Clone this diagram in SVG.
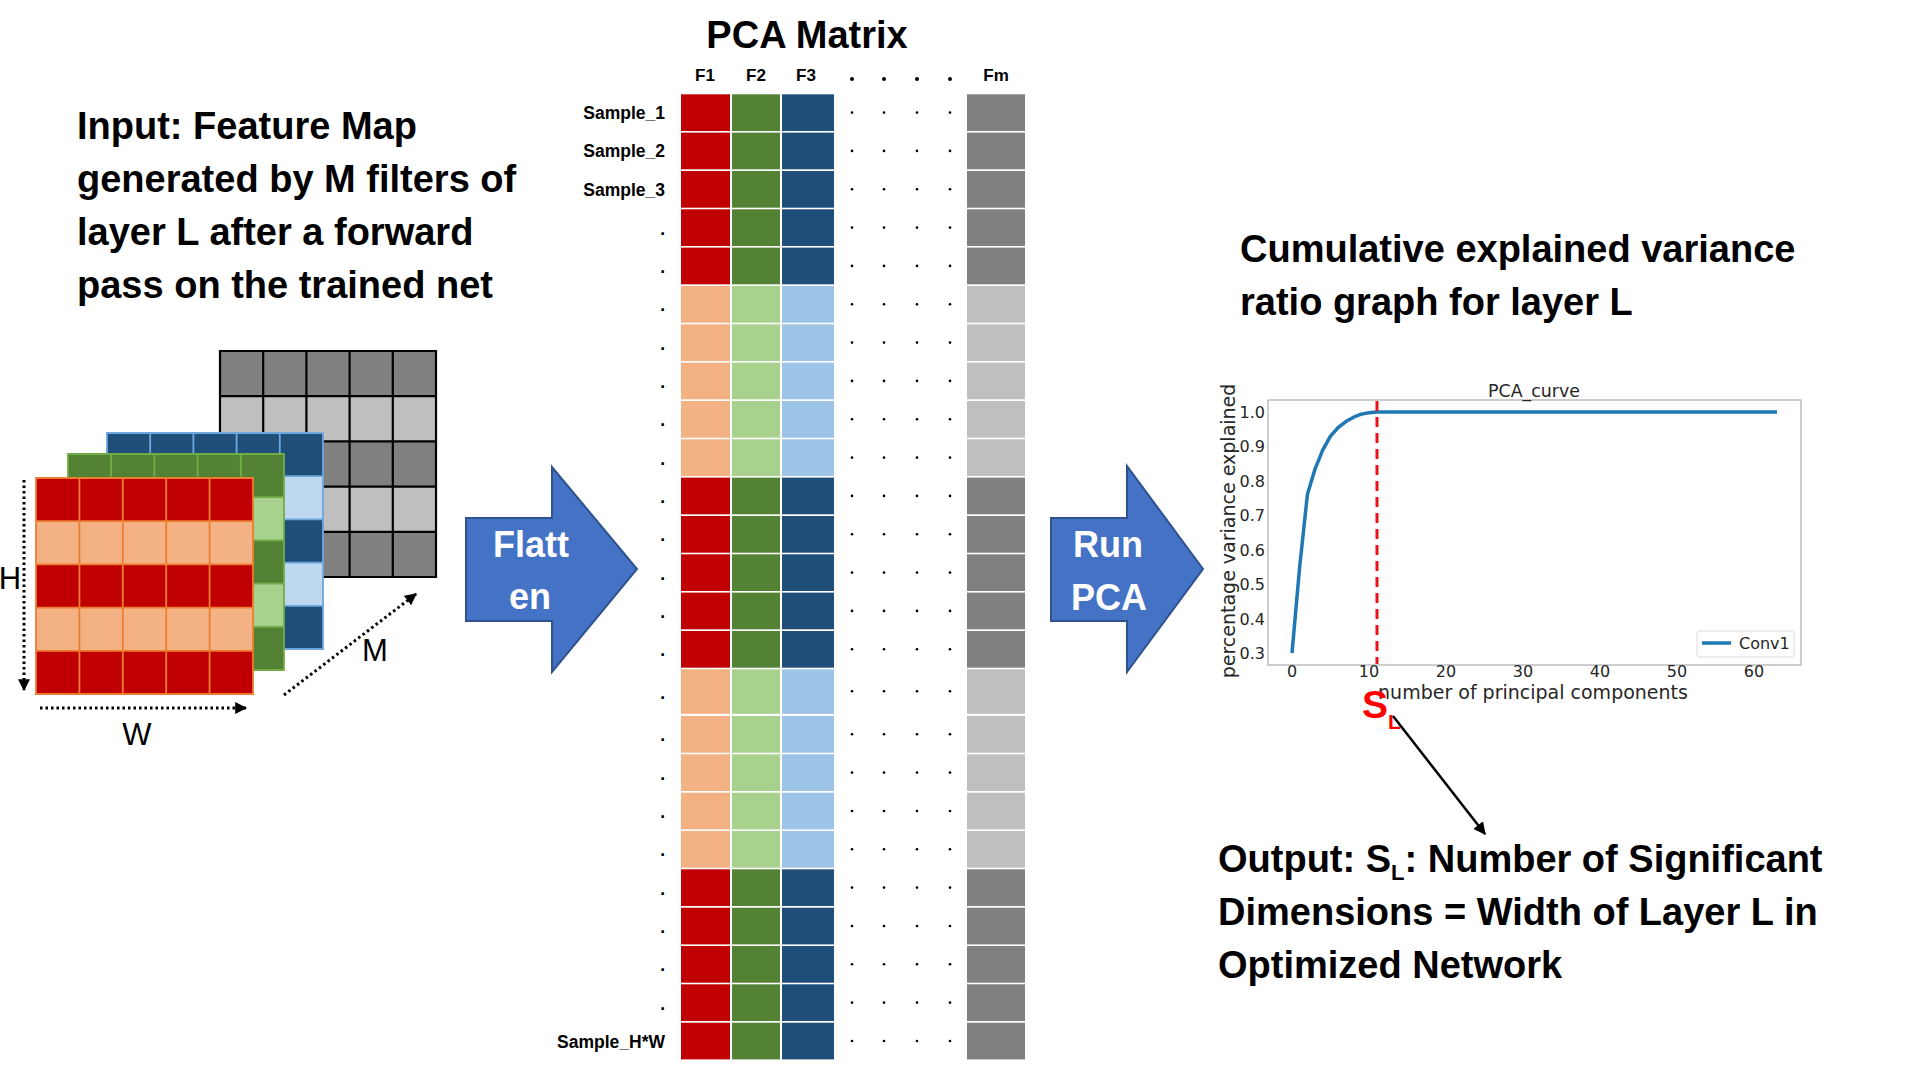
<svg xmlns="http://www.w3.org/2000/svg" width="1920" height="1080" viewBox="0 0 1920 1080">
<style>
.b{font-family:"Liberation Sans",Arial,sans-serif;font-weight:bold;fill:#000}
.r{font-family:"Liberation Sans",Arial,sans-serif;fill:#000}
.big{font-size:38px}
.wt{fill:#fff;font-size:36px;text-anchor:middle}
.hd{font-size:17px;text-anchor:middle}
.lb{font-size:17.5px;text-anchor:end}
.dj{font-family:"DejaVu Sans",sans-serif;fill:#262626}
.tk{font-size:16px}
.dot{stroke:#000;stroke-width:3;stroke-dasharray:2.5 3;fill:none}
.blk{fill:#4472C4;stroke:#2F528F;stroke-width:2}
</style>
<defs>
<marker id="ah" viewBox="0 0 10 10" refX="9" refY="5" markerWidth="4" markerHeight="4" orient="auto" markerUnits="strokeWidth">
<path d="M0,0 L10,5 L0,10 Z" fill="#000"/>
</marker>
<marker id="ah2" viewBox="0 0 10 10" refX="9" refY="5" markerWidth="5" markerHeight="5" orient="auto" markerUnits="strokeWidth">
<path d="M0,0 L10,5 L0,10 Z" fill="#000"/>
</marker>
<g id="rd">
<rect x="681" y="0" width="49" height="36.7" fill="#C00000"/>
<rect x="732" y="0" width="48" height="36.7" fill="#548235"/>
<rect x="782" y="0" width="52" height="36.7" fill="#1F4E79"/>
<rect x="967" y="0" width="58" height="36.7" fill="#808080"/>
<circle cx="852" cy="18.3" r="1.3"/><circle cx="884" cy="18.3" r="1.3"/><circle cx="917" cy="18.3" r="1.3"/><circle cx="950" cy="18.3" r="1.3"/>
</g>
<g id="rl">
<rect x="681" y="0" width="49" height="36.7" fill="#F4B183"/>
<rect x="732" y="0" width="48" height="36.7" fill="#A9D18E"/>
<rect x="782" y="0" width="52" height="36.7" fill="#9DC3E6"/>
<rect x="967" y="0" width="58" height="36.7" fill="#BFBFBF"/>
<circle cx="852" cy="18.3" r="1.3"/><circle cx="884" cy="18.3" r="1.3"/><circle cx="917" cy="18.3" r="1.3"/><circle cx="950" cy="18.3" r="1.3"/>
</g>
<g id="rlt">
<rect x="681" y="0" width="49" height="44.5" fill="#F4B183"/>
<rect x="732" y="0" width="48" height="44.5" fill="#A9D18E"/>
<rect x="782" y="0" width="52" height="44.5" fill="#9DC3E6"/>
<rect x="967" y="0" width="58" height="44.5" fill="#BFBFBF"/>
<circle cx="852" cy="22" r="1.3"/><circle cx="884" cy="22" r="1.3"/><circle cx="917" cy="22" r="1.3"/><circle cx="950" cy="22" r="1.3"/>
</g>
</defs>
<rect width="1920" height="1080" fill="#fff"/>

<g id="input-text">
<text class="b big" x="77" y="139">Input: Feature Map</text>
<text class="b big" x="77" y="192">generated by M filters of</text>
<text class="b big" x="77" y="245">layer L after a forward</text>
<text class="b big" x="77" y="298">pass on the trained net</text>
</g>

<g id="feature-map">
<g id="fm-gray">
<rect x="220" y="351" width="216" height="45.2" fill="#808080"/>
<rect x="220" y="396.2" width="216" height="45.2" fill="#BFBFBF"/>
<rect x="220" y="441.4" width="216" height="45.2" fill="#808080"/>
<rect x="220" y="486.6" width="216" height="45.2" fill="#BFBFBF"/>
<rect x="220" y="531.8" width="216" height="45.2" fill="#808080"/>
<path d="M220,351H436V577H220Z M263.2,351V577 M306.4,351V577 M349.6,351V577 M392.8,351V577 M220,396.2H436 M220,441.4H436 M220,486.6H436 M220,531.8H436" fill="none" stroke="#000" stroke-width="2.2"/>
</g>
<g id="fm-blue">
<rect x="107" y="433" width="216" height="43.2" fill="#1F4E79"/>
<rect x="107" y="476.2" width="216" height="43.2" fill="#BDD7EE"/>
<rect x="107" y="519.4" width="216" height="43.2" fill="#1F4E79"/>
<rect x="107" y="562.6" width="216" height="43.2" fill="#BDD7EE"/>
<rect x="107" y="605.8" width="216" height="43.2" fill="#1F4E79"/>
<path d="M107,433H323V649H107Z M150.2,433V649 M193.4,433V649 M236.6,433V649 M279.8,433V649 M107,476.2H323 M107,519.4H323 M107,562.6H323 M107,605.8H323" fill="none" stroke="#6FA8DC" stroke-width="1.8"/>
</g>
<g id="fm-green">
<rect x="68" y="454" width="216" height="43.2" fill="#548235"/>
<rect x="68" y="497.2" width="216" height="43.2" fill="#A9D18E"/>
<rect x="68" y="540.4" width="216" height="43.2" fill="#548235"/>
<rect x="68" y="583.6" width="216" height="43.2" fill="#A9D18E"/>
<rect x="68" y="626.8" width="216" height="43.2" fill="#548235"/>
<path d="M68,454H284V670H68Z M111.2,454V670 M154.4,454V670 M197.6,454V670 M240.8,454V670 M68,497.2H284 M68,540.4H284 M68,583.6H284 M68,626.8H284" fill="none" stroke="#70AD47" stroke-width="1.8"/>
</g>
<g id="fm-red">
<rect x="36" y="478" width="217" height="43.2" fill="#C00000"/>
<rect x="36" y="521.2" width="217" height="43.2" fill="#F4B183"/>
<rect x="36" y="564.4" width="217" height="43.2" fill="#C00000"/>
<rect x="36" y="607.6" width="217" height="43.2" fill="#F4B183"/>
<rect x="36" y="650.8" width="217" height="43.2" fill="#C00000"/>
<path d="M36,478H253V694H36Z M79.4,478V694 M122.8,478V694 M166.2,478V694 M209.6,478V694 M36,521.2H253 M36,564.4H253 M36,607.6H253 M36,650.8H253" fill="none" stroke="#ED7D31" stroke-width="1.8"/>
</g>
<g id="dims">
<path class="dot" d="M24,480V690" marker-end="url(#ah)"/>
<path class="dot" d="M40,708H246" marker-end="url(#ah)"/>
<path class="dot" d="M284,695L416,594" marker-end="url(#ah)"/>
<text class="r" x="10" y="589" font-size="31" text-anchor="middle">H</text>
<text class="r" x="137" y="745" font-size="31" text-anchor="middle">W</text>
<text class="r" x="375" y="661" font-size="31" text-anchor="middle">M</text>
</g>
</g>

<g id="flatten-arrow">
<path class="blk" d="M466,518H552V467L637,569L552,672V621H466Z"/>
<text class="b wt" x="531" y="557">Flatt</text>
<text class="b wt" x="530" y="609">en</text>
</g>

<g id="pca-matrix">
<text class="b" x="807" y="48" font-size="38" text-anchor="middle">PCA Matrix</text>
<text class="b hd" x="705" y="81">F1</text>
<text class="b hd" x="756" y="81">F2</text>
<text class="b hd" x="806" y="81">F3</text>
<text class="b hd" x="996" y="81">Fm</text>
<circle cx="852" cy="79" r="2"/><circle cx="884" cy="79" r="2"/><circle cx="917" cy="79" r="2"/><circle cx="950" cy="79" r="2"/>
<use href="#rd" y="94.3"/>
<use href="#rd" y="132.6"/>
<use href="#rd" y="171"/>
<use href="#rd" y="209.3"/>
<use href="#rd" y="247.6"/>
<use href="#rl" y="286"/>
<use href="#rl" y="324.3"/>
<use href="#rl" y="362.6"/>
<use href="#rl" y="401"/>
<use href="#rl" y="439.3"/>
<use href="#rd" y="477.6"/>
<use href="#rd" y="516"/>
<use href="#rd" y="554.3"/>
<use href="#rd" y="592.6"/>
<use href="#rd" y="631"/>
<use href="#rlt" y="669.3"/>
<use href="#rl" y="716"/>
<use href="#rl" y="754.3"/>
<use href="#rl" y="792.7"/>
<use href="#rl" y="831"/>
<use href="#rd" y="869.3"/>
<use href="#rd" y="907.7"/>
<use href="#rd" y="946"/>
<use href="#rd" y="984.3"/>
<use href="#rd" y="1022.7"/>
<text class="b lb" x="665" y="119">Sample_1</text>
<text class="b lb" x="665" y="157">Sample_2</text>
<text class="b lb" x="665" y="196">Sample_3</text>
<text class="b lb" x="665" y="235">.</text>
<text class="b lb" x="665" y="273">.</text>
<text class="b lb" x="665" y="311">.</text>
<text class="b lb" x="665" y="350">.</text>
<text class="b lb" x="665" y="388">.</text>
<text class="b lb" x="665" y="426">.</text>
<text class="b lb" x="665" y="465">.</text>
<text class="b lb" x="665" y="503">.</text>
<text class="b lb" x="665" y="541">.</text>
<text class="b lb" x="665" y="580">.</text>
<text class="b lb" x="665" y="618">.</text>
<text class="b lb" x="665" y="656">.</text>
<text class="b lb" x="665" y="699">.</text>
<text class="b lb" x="665" y="741">.</text>
<text class="b lb" x="665" y="780">.</text>
<text class="b lb" x="665" y="818">.</text>
<text class="b lb" x="665" y="856">.</text>
<text class="b lb" x="665" y="895">.</text>
<text class="b lb" x="665" y="933">.</text>
<text class="b lb" x="665" y="971">.</text>
<text class="b lb" x="665" y="1010">.</text>
<text class="b lb" x="665" y="1048">Sample_H*W</text>
</g>

<g id="runpca-arrow">
<path class="blk" d="M1051,518H1127V466L1203,569L1127,672V621H1051Z"/>
<text class="b wt" x="1108" y="557">Run</text>
<text class="b wt" x="1109" y="610">PCA</text>
</g>

<g id="chart-title">
<text class="b big" x="1240" y="262">Cumulative explained variance</text>
<text class="b big" x="1240" y="315">ratio graph for layer L</text>
</g>

<g id="pca-chart">
<rect x="1268" y="400" width="533" height="265" fill="#fff" stroke="#BDBDBD" stroke-width="1.5"/>
<text class="dj" x="1534" y="397" font-size="17.4" text-anchor="middle">PCA_curve</text>
<g class="dj tk" text-anchor="end">
<text x="1265" y="418">1.0</text>
<text x="1265" y="452.4">0.9</text>
<text x="1265" y="486.9">0.8</text>
<text x="1265" y="521.3">0.7</text>
<text x="1265" y="555.7">0.6</text>
<text x="1265" y="590.2">0.5</text>
<text x="1265" y="624.6">0.4</text>
<text x="1265" y="659">0.3</text>
</g>
<g class="dj tk" text-anchor="middle">
<text x="1292" y="677">0</text>
<text x="1369" y="677">10</text>
<text x="1446" y="677">20</text>
<text x="1523" y="677">30</text>
<text x="1600" y="677">40</text>
<text x="1677" y="677">50</text>
<text x="1754" y="677">60</text>
</g>
<text class="dj" x="1533" y="699" font-size="19" text-anchor="middle">number of principal components</text>
<text class="dj" font-size="19" text-anchor="middle" transform="translate(1235,531) rotate(-90)">percentage variance explained</text>
<polyline fill="none" stroke="#1F77B4" stroke-width="3.5" stroke-linejoin="round" points="1292,653 1299.7,566.7 1307.4,494.6 1315.1,468.8 1322.8,449.9 1330.5,436.1 1338.2,427.5 1345.9,421.6 1353.6,417.2 1361.3,414.1 1369,412.7 1376.7,412 1777,412"/>
<line x1="1377" y1="401" x2="1377" y2="664" stroke="#E8141B" stroke-width="3" stroke-dasharray="10 6"/>
<rect x="1697" y="631" width="97" height="26" rx="3" fill="#fff" stroke="#DDDDDD"/>
<line x1="1702" y1="643" x2="1731" y2="643" stroke="#1F77B4" stroke-width="3.5"/>
<text class="dj" x="1739" y="649" font-size="16">Conv1</text>
<text class="b" x="1362" y="718" font-size="39" style="fill:#FF0000">S<tspan font-size="21" dy="11">L</tspan></text>
</g>

<g id="connectors">
<line x1="1393" y1="716" x2="1485" y2="834" stroke="#000" stroke-width="2.5" marker-end="url(#ah2)"/>
</g>

<g id="output-text">
<text class="b big" x="1218" y="872">Output: S<tspan font-size="22" dy="8">L</tspan><tspan dy="-8">: Number of Significant</tspan></text>
<text class="b big" x="1218" y="925">Dimensions = Width of Layer L in</text>
<text class="b big" x="1218" y="978">Optimized Network</text>
</g>
</svg>
